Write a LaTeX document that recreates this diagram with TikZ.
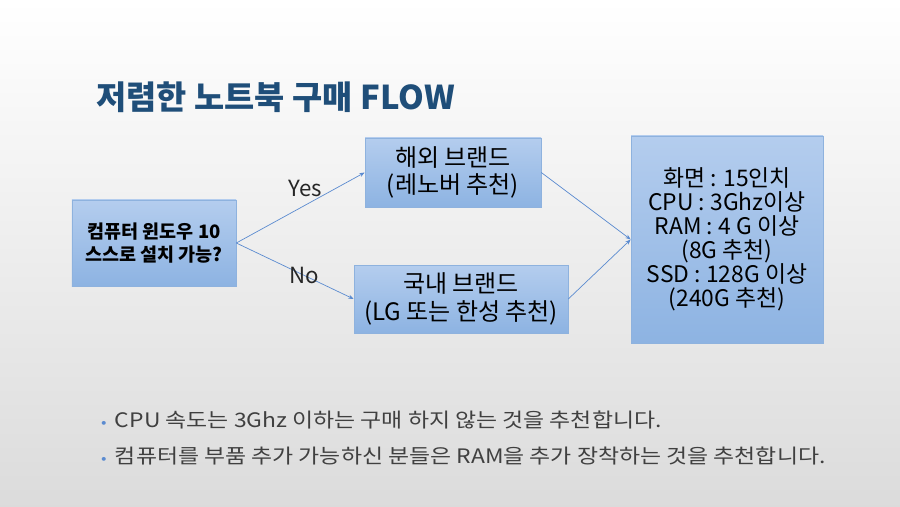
\documentclass[tikz,border=0pt]{standalone}
\usepackage{fontspec}
\setmainfont{Noto Sans CJK KR}
\newfontfamily\notefont[FakeStretch=1.15]{Noto Sans CJK KR}
\usetikzlibrary{arrows.meta}
\definecolor{titleblue}{HTML}{1F4E79}
\definecolor{boxtop}   {HTML}{B4CDEE}
\definecolor{boxbot}   {HTML}{8DB3E2}
\definecolor{boxline}  {HTML}{8EB2DE}
\definecolor{flowline} {HTML}{5B8BD0}
\definecolor{bodytext} {HTML}{404040}
\tikzset{
  >={Stealth[length=1.6mm, width=1.2mm]},
  flowbox/.style={
    draw=boxline, line width=0.5pt, rectangle,
    top color=boxtop, bottom color=boxbot,
    align=center, inner sep=2pt, text=black
  },
  flowarrow/.style={
    ->, draw=flowline, line width=0.6pt
  },
  branchlabel/.style={
    font=\fontsize{19}{21}\selectfont, text=black!85, inner sep=0pt
  },
  bulletline/.style={
    anchor=west, inner sep=0pt, text=bodytext,
    font=\notefont\fontsize{17}{20}\selectfont
  },
}
\begin{document}
\begin{tikzpicture}[x=0.03cm, y=-0.03cm]

% ---- Slide background --------------------------------------------
\shade[top color=white, bottom color=black!14] (0,0) rectangle (900,507);
\useasboundingbox (0,0) rectangle (900,507);

% ---- Title -------------------------------------------------------
\node[anchor=west, inner sep=0pt, text=titleblue,
      font=\fontsize{28}{31}\selectfont\bfseries] (title) at (96,97)
  {저렴한 노트북 구매 FLOW};

% ---- Boxes -------------------------------------------------------
\node[flowbox, minimum width=4.92cm, minimum height=2.58cm,
      font=\fontsize{15.8}{19.5}\selectfont\bfseries] (ask) at (154,243)
  {컴퓨터 윈도우 10\\스스로 설치 가능?};
\node[flowbox, minimum width=5.28cm, minimum height=2.07cm,
      font=\fontsize{20.5}{23.5}\selectfont] (abroad) at (453,172.5)
  {해외 브랜드\\(레노버 추천)};
\node[flowbox, minimum width=6.42cm, minimum height=2.04cm,
      font=\fontsize{20.5}{23.5}\selectfont] (domestic) at (461,299)
  {국내 브랜드\\(LG 또는 한성 추천)};
\node[flowbox, minimum width=5.76cm, minimum height=6.21cm,
      font=\fontsize{19.5}{20.4}\selectfont] (spec) at (727,239.5)
  {화면 : 15인치\\CPU : 3Ghz이상\\RAM : 4 G 이상\\(8G 추천)\\SSD : 128G 이상\\(240G 추천)};

% ---- Connectors --------------------------------------------------
\draw[flowarrow] (ask.east) -- (abroad.west);
\draw[flowarrow] (ask.east) -- (domestic.west);
\draw[flowarrow] (abroad.east) -- (spec.west);
\draw[flowarrow] (domestic.east) -- (spec.west);

\node[branchlabel] (yes) at (305,188) {Yes};
\node[branchlabel] (no)  at (304,275) {No};

% ---- Notes -------------------------------------------------------
\node[bulletline] (note1) at (101,420)
  {{\color{flowline}\fontsize{12}{14}\selectfont•}\hspace{7pt}CPU 속도는 3Ghz 이하는 구매 하지 않는 것을 추천합니다.};
\node[bulletline] (note2) at (101,456)
  {{\color{flowline}\fontsize{12}{14}\selectfont•}\hspace{7pt}컴퓨터를 부품 추가 가능하신 분들은 RAM을 추가 장착하는 것을 추천합니다.};

\end{tikzpicture}
\end{document}
